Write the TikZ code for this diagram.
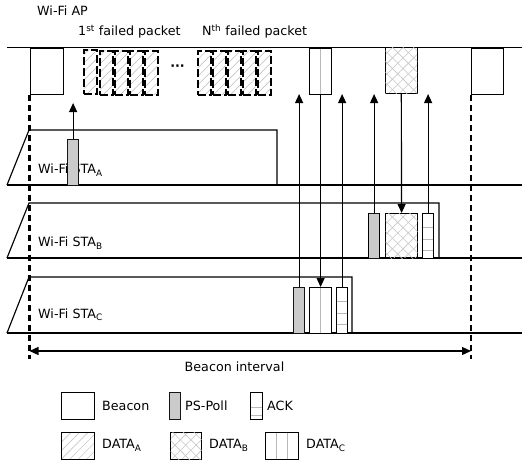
\documentclass[tikz,border=0pt]{standalone}
\usepackage{fontspec}
\setmainfont{DejaVu Sans}
\usetikzlibrary{arrows.meta,patterns,patterns.meta}
\begin{document}
\begin{tikzpicture}[x=1pt,y=-1pt,
  every node/.style={font=\fontsize{12.7}{14}\selectfont},
  lbl/.style={anchor=west, inner sep=0},
  ln/.style={line width=1.15pt},
  arr/.style={line width=1.15pt, -{Triangle[length=9pt,width=8pt]}},
  arrs/.style={line width=1.15pt, {Triangle[length=9pt,width=8pt]}-{Triangle[length=9pt,width=8pt]}},
  vdash/.style={line width=2.2pt, dash pattern=on 6pt off 4pt},
  box/.style={draw, line width=1.2pt, inner sep=0, anchor=north west, fill=white},
  pspoll/.style={box, fill=black!22, postaction={pattern={Dots[distance=2pt,radius=0.45pt]}, pattern color=white}},
  failed/.style={draw, line width=2pt, dash pattern=on 8pt off 3pt, inner sep=0, anchor=north west,
     pattern={Lines[angle=45,distance=6pt,line width=0.5pt]}, pattern color=gray!55},
  dataA/.style={box, pattern={Lines[angle=45,distance=6pt,line width=0.5pt]}, pattern color=gray!55},
  dataB/.style={box, pattern={Lines[angle=45,distance=7.5pt,line width=0.6pt]}, pattern color=gray!45,
     postaction={pattern={Lines[angle=-45,distance=7.5pt,line width=0.6pt]}, pattern color=gray!45}},
  vlines/.style={path picture={\foreach \d in {#1}{\draw[gray!55,line width=0.7pt]
     ([xshift=\d pt]path picture bounding box.north west) -- ([xshift=\d pt]path picture bounding box.south west);}}},
  hlines/.style={path picture={\foreach \d in {#1}{\draw[gray!55,line width=0.7pt]
     ([yshift=-\d pt]path picture bounding box.north west) -- ([yshift=-\d pt]path picture bounding box.north east);}}},
]
\useasboundingbox (0,0) rectangle (522,461);

% Wi-Fi AP timeline
\node[lbl] (ap) at (37,11) {Wi-Fi AP};
\node[lbl] (f1) at (78,31.5) {1\textsuperscript{st} failed packet};
\node[lbl] (fn) at (202,31.5) {N\textsuperscript{th} failed packet};
\draw[ln] (7,47.5) -- (522,47.5);
\node[box, minimum width=33pt, minimum height=46pt] (b1) at (29.5,47.5) {};
\node[box, minimum width=32pt, minimum height=46pt] (b2) at (471,47.5) {};
\foreach \i in {0,...,4}{
  \node[failed, minimum width=13pt, minimum height=44pt] (fa\i) at (83.5+15*\i,49.5) {};
  \node[failed, minimum width=13pt, minimum height=44pt] (fb\i) at (196.5+15*\i,49.5) {};
}
\node[font=\bfseries\fontsize{12.7}{14}\selectfont, inner sep=0] (dots) at (177.5,68) {···};
\node[box, vlines={11}, minimum width=22pt, minimum height=46pt] (dcAP) at (309,47.5) {};
\node[dataB, minimum width=32pt, minimum height=46pt] (dbAP) at (385,47.5) {};

% STA A
\node[lbl] (la) at (38,170) {Wi-Fi STA\textsubscript{A}};
\draw[ln] (7,185) -- (522,185);
\draw[ln] (7,185) -- (29,130) -- (277,130) -- (277,185);
\node[pspoll, minimum width=11pt, minimum height=46pt] (psA) at (67,139) {};

% STA B
\node[lbl] (lb) at (38,243) {Wi-Fi STA\textsubscript{B}};
\draw[ln] (7,258) -- (522,258);
\draw[ln] (7,258) -- (29,203) -- (439,203) -- (439,258);
\node[pspoll, minimum width=11pt, minimum height=45pt] (psB) at (368,213) {};
\node[dataB, minimum width=32pt, minimum height=45pt] (dbB) at (385,213) {};
\node[box, hlines={14,25.5,37}, minimum width=11pt, minimum height=45pt] (ackB) at (422,213) {};

% STA C
\node[lbl] (lc) at (38,315) {Wi-Fi STA\textsubscript{C}};
\draw[ln] (7,333) -- (522,333);
\draw[ln] (7,333) -- (29,277) -- (352,277) -- (352,333);
\node[pspoll, minimum width=11pt, minimum height=46pt] (psC) at (293,287) {};
\node[box, vlines={11}, minimum width=22pt, minimum height=46pt] (dcC) at (309,287) {};
\node[box, hlines={14,25.5,37}, minimum width=11pt, minimum height=46pt] (ackC) at (336,287) {};

% arrows
\coordinate (tipA) at (0,103);
\coordinate (tip) at (0,94);
\draw[arr] (psA.north) -- (psA.north |- tipA);
\draw[arr] (psC.north) -- (psC.north |- tip);
\draw[arr] (ackC.north) -- (ackC.north |- tip);
\draw[arr] (psB.north) -- (psB.north |- tip);
\draw[arr] (ackB.north) -- (ackB.north |- tip);
\draw[arr] (dcAP.south) -- (dcC.north);
\draw[arr] (dbAP.south) -- (dbB.north);

% beacon interval
\coordinate (vb) at (0,359);
\draw[vdash] (b1.south west) -- (b1.south west |- vb);
\draw[vdash] (b2.south west) -- (b2.south west |- vb);
\coordinate (bl) at (29.5,351);
\coordinate (br) at (471,351);
\draw[arrs] (bl) -- (br);
\node (bi) at (234.5,367) {Beacon interval};

% legend
\node[box, minimum width=33pt, minimum height=27pt] (lgB) at (61,392) {};
\node[lbl] (tB) at (102,405.5) {Beacon};
\node[pspoll, minimum width=11pt, minimum height=27pt] (lgP) at (169,392) {};
\node[lbl] (tP) at (185,405.5) {PS-Poll};
\node[box, hlines={15,23}, minimum width=12pt, minimum height=27pt] (lgK) at (250,392) {};
\node[lbl] (tK) at (267,405.5) {ACK};
\node[dataA, minimum width=33pt, minimum height=27pt] (lgA) at (61,432) {};
\node[lbl] (tA) at (102,445.5) {DATA\textsubscript{A}};
\node[dataB, minimum width=31pt, minimum height=27pt] (lgDB) at (170,432) {};
\node[lbl] (tDB) at (209,445.5) {DATA\textsubscript{B}};
\node[box, vlines={11,22}, minimum width=33pt, minimum height=27pt] (lgC) at (265,432) {};
\node[lbl] (tC) at (306,445.5) {DATA\textsubscript{C}};
\end{tikzpicture}
\end{document}
